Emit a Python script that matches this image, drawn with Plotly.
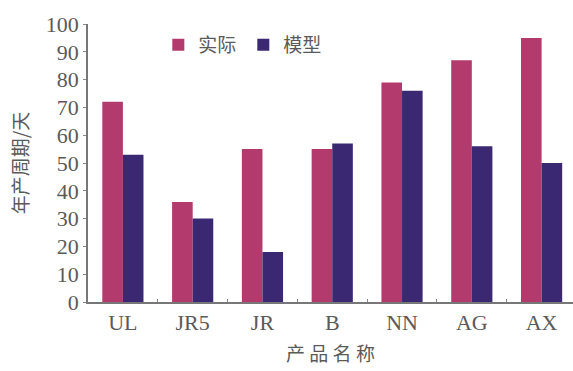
import plotly.graph_objects as go

products = ["UL", "JR5", "JR", "B", "NN", "AG", "AX"]
actual = [72, 36, 55, 55, 79, 87, 95]
model = [53, 30, 18, 57, 76, 56, 50]
y_ticks = [0, 10, 20, 30, 40, 50, 60, 70, 80, 90, 100]

PINK = "#b23a6c"
NAVY = "#3a2872"
TEXT = "#5a5a5a"
SERIF = "Liberation Serif, Times New Roman, serif"
CJK = "Noto Sans CJK SC, sans-serif"

fig = go.Figure()
fig.add_trace(go.Bar(x=products, y=actual, name="实际", marker=dict(color=PINK, line=dict(width=0))))
fig.add_trace(go.Bar(x=products, y=model, name="模型", marker=dict(color=NAVY, line=dict(width=0))))

fig.update_layout(
    width=573, height=371,
    margin=dict(l=88, r=0, t=24, b=69),
    paper_bgcolor="white", plot_bgcolor="white",
    barmode="group", bargap=0.41, bargroupgap=0,
    showlegend=True,
    legend=dict(
        orientation="h", x=0.145, y=0.925, xanchor="left", yanchor="middle",
        font=dict(family=CJK, size=19, color=TEXT),
        itemwidth=30, entrywidth=40, entrywidthmode="pixels",
        tracegroupgap=0, bgcolor="rgba(0,0,0,0)",
    ),
    xaxis=dict(
        range=[-0.5, 6.45],
        showline=True, linecolor="#777777", linewidth=1.5,
        ticks="inside", tickson="boundaries", ticklen=3, tickcolor="#888888",
        tickfont=dict(family=SERIF, size=22, color=TEXT),
        title=dict(text="产 品 名 称", font=dict(family=CJK, size=19, color=TEXT), standoff=14),
        showgrid=False,
    ),
    yaxis=dict(
        range=[0, 100], tickvals=y_ticks,
        showline=True, linecolor="#777777", linewidth=1.5,
        ticks="outside", ticklen=3, tickcolor="#888888",
        tickfont=dict(family=SERIF, size=22, color=TEXT),
        title=dict(text="年产周期/天", font=dict(family=CJK, size=19, color=TEXT), standoff=12),
        showgrid=False, zeroline=False,
    ),
)

fig.write_html("out.html")
